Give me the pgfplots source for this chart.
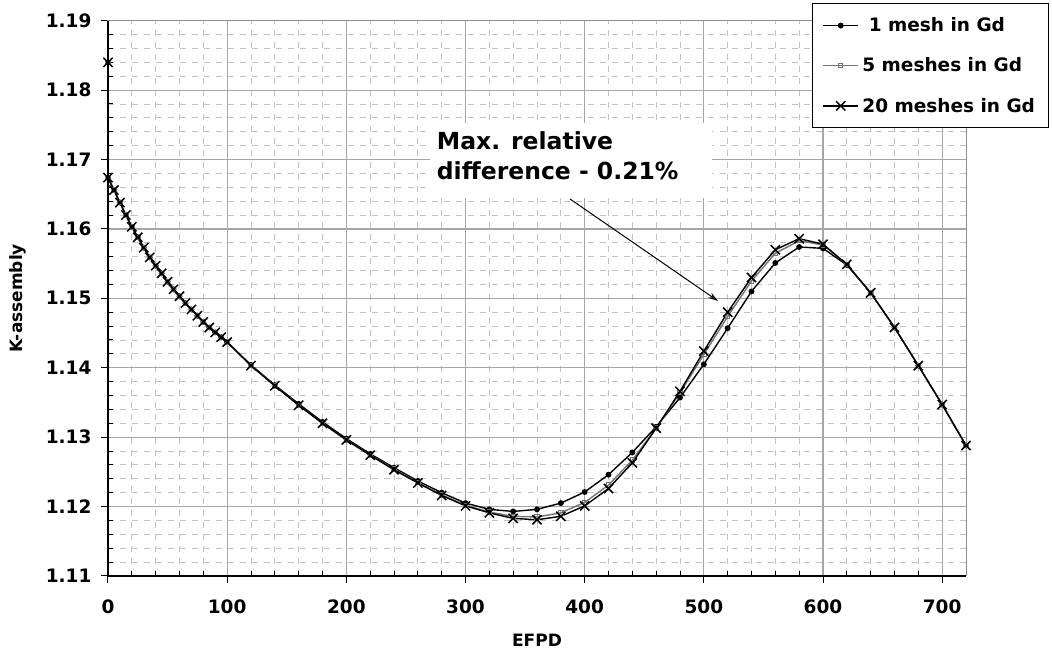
\documentclass[border=0pt]{standalone}
\usepackage{pgfplots}
\pgfplotsset{compat=1.18}
\usepackage{fontspec}
\setmainfont{DejaVu Sans}
\usetikzlibrary{arrows.meta}

\pgfplotstableread{
x y
0 1.1840
0 1.1674
5 1.1656
10 1.1638
15 1.1620
20 1.1603
25 1.1588
30 1.1573
35 1.1559
40 1.1547
45 1.1536
50 1.1524
55 1.1513
60 1.1503
65 1.1493
70 1.1484
75 1.1475
80 1.1466
85 1.1458
90 1.1451
95 1.1444
100 1.1437
120 1.1404
140 1.1375
160 1.1348
180 1.1322
200 1.1298
220 1.1276
240 1.1256
260 1.1237
280 1.1220
300 1.1205
320 1.1196
340 1.1193
360 1.1196
380 1.1205
400 1.1221
420 1.1246
440 1.1278
460 1.1315
480 1.1357
500 1.1405
520 1.1457
540 1.1510
560 1.1551
580 1.1574
600 1.1572
620 1.1548
640 1.1508
660 1.1458
680 1.1403
700 1.1347
720 1.1288
}\onemesh

\pgfplotstableread{
x y
0 1.1840
0 1.1674
5 1.1656
10 1.1638
15 1.1620
20 1.1603
25 1.1588
30 1.1573
35 1.1559
40 1.1547
45 1.1536
50 1.1524
55 1.1513
60 1.1503
65 1.1493
70 1.1484
75 1.1475
80 1.1466
85 1.1458
90 1.1451
95 1.1444
100 1.1437
120 1.1403
140 1.1374
160 1.1346
180 1.1320
200 1.1296
220 1.1274
240 1.1254
260 1.1235
280 1.1217
300 1.1202
320 1.1192
340 1.1186
360 1.1185
380 1.1191
400 1.1206
420 1.1231
440 1.1267
460 1.1313
480 1.1364
500 1.1419
520 1.1474
540 1.1525
560 1.1565
580 1.1583
600 1.1577
620 1.1549
640 1.1508
660 1.1458
680 1.1403
700 1.1347
720 1.1288
}\fivemesh

\pgfplotstableread{
x y
0 1.1840
0 1.1674
5 1.1656
10 1.1638
15 1.1620
20 1.1603
25 1.1588
30 1.1573
35 1.1559
40 1.1547
45 1.1536
50 1.1524
55 1.1513
60 1.1503
65 1.1493
70 1.1484
75 1.1475
80 1.1466
85 1.1458
90 1.1451
95 1.1444
100 1.1437
120 1.1403
140 1.1374
160 1.1346
180 1.1320
200 1.1296
220 1.1274
240 1.1253
260 1.1234
280 1.1216
300 1.1201
320 1.1191
340 1.1183
360 1.1181
380 1.1186
400 1.1201
420 1.1226
440 1.1263
460 1.1313
480 1.1366
500 1.1424
520 1.1480
540 1.1530
560 1.1570
580 1.1586
600 1.1578
620 1.1549
640 1.1508
660 1.1458
680 1.1403
700 1.1347
720 1.1288
}\twentymesh

\begin{document}
\begin{tikzpicture}
\useasboundingbox (-108pt,-82pt) rectangle (944pt,576pt);
\begin{axis}[
  at={(0pt,0pt)}, anchor=south west,
  scale only axis, width=858pt, height=555.3pt,
  xmin=0, xmax=720, ymin=1.11, ymax=1.19,
  xtick={0,100,200,300,400,500,600,700},
  ytick={1.11,1.12,1.13,1.14,1.15,1.16,1.17,1.18,1.19},
  minor x tick num=4, minor y tick num=4,
  tick pos=left,
  tick align=outside,
  major tick length=7pt, minor tick length=-5pt,
  tick style={black, line width=1pt},
  grid=both,
  major grid style={black!35, line width=1.2pt},
  minor grid style={black!24, line width=0.9pt, dash pattern=on 6pt off 6pt},
  axis line style={black!45, line width=1pt},
  clip=false,
  /pgf/number format/assume math mode=true,
  yticklabel style={/pgf/number format/fixed, /pgf/number format/precision=2, /pgf/number format/fixed zerofill, font=\fontsize{18.5}{22}\selectfont\bfseries, xshift=-6pt},
  xticklabel style={font=\fontsize{18.5}{22}\selectfont\bfseries, yshift=-13pt},
  xlabel={EFPD}, ylabel={K-assembly},
  xlabel style={at={(axis description cs:0.5,-0.1153)}, anchor=center, font=\fontsize{17}{20}\selectfont\bfseries},
  ylabel style={at={(axis description cs:-0.1049,0.5)}, anchor=center, font=\fontsize{17}{20}\selectfont\bfseries},
  legend style={at={(axis description cs:1.0967,1.0319)}, anchor=north east,
    draw=black, line width=1pt, fill=white, font=\fontsize{18.5}{22}\selectfont\bfseries,
    inner xsep=10pt, inner ysep=2pt,
    nodes={inner ysep=12.3pt, inner xsep=3.5pt}},
  legend cell align=left,
  legend image code/.code={\draw[mark repeat=2,mark phase=2,#1] plot coordinates {(0pt,0pt) (17.5pt,0pt) (35pt,0pt)};},
]
\addplot[black, line width=1.4pt, mark=*, mark size=2.2pt, mark options={solid, fill=black}] table[x=x,y=y] {\onemesh};
\addlegendentry{~1 mesh in Gd}
\addplot[black!55, line width=1.4pt, mark=square, mark size=2.2pt, mark options={solid, black!55, line width=0.9pt}] table[x=x,y=y] {\fivemesh};
\addlegendentry{5 meshes in Gd}
\addplot[black, line width=1.4pt, mark=x, mark size=6.5pt, mark options={solid, line width=1.5pt}] table[x=x,y=y] {\twentymesh};
\addlegendentry{20 meshes in Gd}
\end{axis}
\draw[black, line width=1.6pt] (0pt,555.3pt) -- (0pt,0pt) -- (858pt,0pt);
\fill[white] (322pt,378pt) rectangle (604pt,453pt);
\node[anchor=base west, inner sep=0pt, font=\fontsize{23.5}{30}\selectfont\bfseries] at (328.7pt,426pt) {Max. relative};
\node[anchor=base west, inner sep=0pt, font=\fontsize{23.5}{30}\selectfont\bfseries] at (328.7pt,396pt) {difference - 0.21\%};
\draw[black, line width=1pt, -{Stealth[length=10pt, width=6pt, open]}] (462pt,377pt) -- (610pt,275pt);
\end{tikzpicture}
\end{document}
